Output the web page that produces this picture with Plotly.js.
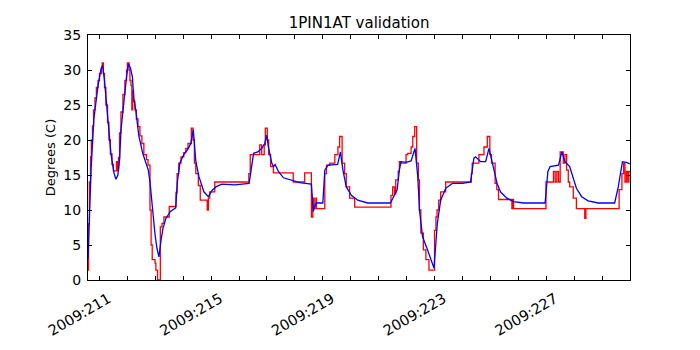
<!DOCTYPE html>
<html>
<head>
<meta charset="utf-8">
<script src="https://cdn.plot.ly/plotly-3.0.1.min.js"></script>
<style>
  body { margin: 0; background: #fff; }
  #graphDiv { width: 700px; height: 350px; }
</style>
</head>
<body>
<div id="graphDiv"></div>
<script>
// telemetry (red, stepped) - day of year 2009
const telemDay = [
  210.59, 210.61, 210.64, 210.68, 210.71, 210.75, 210.79, 210.84, 210.89, 210.95,
  211.00, 211.07, 211.10, 211.14, 211.18, 211.23, 211.29, 211.34, 211.39, 211.45,
  211.50, 211.61, 211.64, 211.68, 211.72, 211.77, 211.84, 211.91, 211.97, 212.00,
  212.06, 212.09, 212.13, 212.16, 212.19, 212.22, 212.27, 212.32, 212.38, 212.45,
  212.52, 212.59, 212.68, 212.74, 212.81, 212.85, 212.89, 212.99, 213.02, 213.08,
  213.18, 213.24, 213.31, 213.50, 213.74, 213.78, 213.84, 213.92, 214.02, 214.09,
  214.17, 214.29, 214.35, 214.40, 214.45, 214.54, 214.61, 214.86, 214.90, 214.95,
  215.13, 216.35, 216.40, 216.74, 216.81, 216.90, 216.94, 217.01, 217.06, 217.13,
  217.23, 217.94, 218.35, 218.59, 218.64, 218.69, 218.75, 218.77, 219.07, 219.13,
  219.25, 219.43, 219.54, 219.60, 219.69, 219.78, 219.84, 219.96, 220.14, 221.44,
  221.50, 221.57, 221.61, 221.70, 221.74, 221.80, 221.98, 222.04, 222.16, 222.22,
  222.29, 222.36, 222.42, 222.46, 222.51, 222.60, 222.69, 222.80, 223.00, 223.05,
  223.09, 223.15, 223.22, 223.40, 224.32, 224.35, 224.59, 224.77, 224.89, 224.98,
  225.04, 225.17, 225.23, 225.29, 225.77, 225.80, 225.83, 226.99, 227.26, 227.32,
  227.38, 227.44, 227.50, 227.61, 227.67, 227.73, 227.79, 227.84, 227.97, 228.08,
  228.38, 228.42, 229.61, 229.71, 229.77, 229.82, 229.87, 229.92, 229.96, 230.00
];
const telemTemp = [
  1.4, 8.0, 14.0, 17.6, 20.0, 22.0, 24.3, 26.0, 27.5, 28.5,
  29.5, 30.3, 31.0, 29.5, 27.5, 25.0, 22.5, 20.0, 18.0, 16.5,
  15.6, 16.9, 15.6, 17.5, 21.0, 24.0, 26.5, 28.5, 30.0, 31.0,
  30.0, 28.5, 27.8, 24.3, 27.0, 25.5, 24.3, 23.0, 21.9, 20.6,
  19.5, 17.9, 17.2, 16.4, 10.0, 5.0, 2.9, 2.4, 1.4, 0.0,
  7.6, 8.1, 9.0, 10.5, 12.5, 15.2, 16.7, 17.6, 18.2, 18.8,
  19.5, 21.7, 20.0, 16.7, 15.2, 13.5, 11.4, 10.0, 11.7, 12.6,
  14.0, 15.2, 17.9, 19.3, 17.9, 19.3, 21.7, 20.0, 17.9, 16.2,
  15.3, 14.0, 15.3, 9.0, 11.7, 10.2, 11.7, 10.2, 15.2, 16.4,
  16.7, 17.9, 19.0, 20.5, 16.7, 15.2, 13.3, 11.7, 10.4, 12.1,
  13.3, 12.3, 14.3, 15.5, 16.9, 16.7, 17.9, 18.1, 19.0, 20.5,
  21.9, 16.7, 14.3, 10.0, 6.7, 4.3, 2.9, 1.4, 7.1, 9.0,
  10.0, 11.4, 12.6, 14.0, 15.2, 16.7, 17.9, 19.0, 20.5, 17.9,
  16.7, 13.8, 12.9, 11.5, 10.2, 11.5, 10.2, 14.0, 15.5, 14.0,
  15.5, 14.0, 18.3, 16.7, 17.9, 15.7, 14.0, 13.3, 11.7, 10.2,
  8.8, 10.2, 12.9, 15.2, 16.7, 14.0, 15.5, 14.0, 15.5, 15.5
];

// model prediction (blue)
const modelDay = [
  210.59, 210.66, 210.70, 210.80, 210.95, 211.05, 211.11, 211.18, 211.30, 211.41,
  211.52, 211.59, 211.66, 211.72, 211.77, 211.89, 211.97, 212.04, 212.11, 212.18,
  212.23, 212.31, 212.41, 212.55, 212.64, 212.75, 212.81, 212.88, 212.99, 213.06,
  213.13, 213.20, 213.27, 213.38, 213.54, 213.73, 213.79, 213.88, 214.02, 214.17,
  214.27, 214.36, 214.40, 214.45, 214.56, 214.74, 214.90, 215.03, 215.17, 215.38,
  215.85, 216.36, 216.52, 216.67, 216.81, 216.92, 216.99, 217.05, 217.17, 217.23,
  217.29, 217.41, 217.59, 217.89, 218.17, 218.59, 218.66, 218.71, 218.77, 219.00,
  219.07, 219.19, 219.53, 219.63, 219.72, 219.84, 220.02, 220.25, 220.61, 221.42,
  221.50, 221.66, 221.74, 221.80, 221.98, 222.16, 222.30, 222.40, 222.46, 222.57,
  222.75, 222.98, 223.10, 223.22, 223.40, 223.64, 224.00, 224.29, 224.41, 224.47,
  224.65, 224.83, 224.95, 225.07, 225.19, 225.24, 225.36, 225.59, 225.83, 226.19,
  226.96, 227.06, 227.14, 227.44, 227.56, 227.67, 227.84, 227.96, 228.08, 228.27,
  228.50, 228.86, 229.45, 229.58, 229.73, 229.87, 229.99
];
const modelTemp = [
  3.0, 12.0, 15.7, 23.0, 27.8, 30.0, 30.7, 28.5, 23.0, 18.1,
  15.3, 14.4, 15.0, 17.0, 21.4, 26.5, 29.0, 30.9, 30.3, 29.0,
  26.0, 24.0, 20.6, 18.1, 16.9, 15.7, 14.0, 11.0, 6.5, 4.5,
  3.3, 5.5, 7.3, 8.8, 9.8, 10.3, 14.0, 16.7, 17.9, 18.7,
  19.5, 21.5, 19.0, 17.0, 14.8, 12.6, 11.9, 12.8, 13.3, 13.7,
  13.6, 13.8, 18.1, 18.3, 18.8, 19.5, 20.7, 19.0, 16.7, 16.2,
  16.5, 15.5, 14.6, 14.2, 13.9, 13.7, 9.8, 10.5, 11.0, 11.0,
  15.7, 16.4, 16.5, 18.3, 15.7, 13.3, 12.1, 11.4, 11.0, 11.0,
  11.7, 12.9, 15.7, 16.9, 16.8, 17.0, 18.8, 14.8, 10.0, 6.2,
  4.3, 1.7, 8.1, 11.4, 13.1, 13.8, 13.8, 14.0, 17.4, 17.6,
  16.9, 16.9, 18.8, 16.7, 15.0, 13.8, 12.6, 11.7, 11.2, 11.0,
  11.0, 15.5, 16.2, 16.4, 18.3, 16.9, 16.2, 14.5, 13.1, 11.9,
  11.3, 11.0, 11.0, 13.3, 16.9, 16.8, 16.6
];

const tickDays = [211, 215, 219, 223, 227];
const tickLabels = ["2009:211", "2009:215", "2009:219", "2009:223", "2009:227"];

const font = "DejaVu Sans, sans-serif";

const traces = [
  {
    x: telemDay, y: telemTemp, mode: "lines", name: "telem",
    line: { color: "#ff0000", width: 1.3, shape: "hv" }
  },
  {
    x: modelDay, y: modelTemp, mode: "lines", name: "model",
    line: { color: "#0000ff", width: 1.3 }
  }
];

const layout = {
  width: 700, height: 350,
  margin: { l: 88, r: 70, t: 35, b: 70 },
  paper_bgcolor: "#fff", plot_bgcolor: "#fff",
  showlegend: false,
  font: { family: font, size: 13, color: "#000" },
  title: { text: "1PIN1AT validation", font: { family: font, size: 15 }, x: 0.513, xanchor: "center", y: 0.935, yanchor: "middle" },
  xaxis: {
    range: [210.59, 230.0],
    tickmode: "array", tickvals: tickDays, ticktext: tickLabels, tickangle: -30,
    ticklabelshift: 9, ticklabelstandoff: 4,
    ticks: "inside", ticklen: 4, tickcolor: "#000",
    minor: { tickmode: "linear", tick0: 211, dtick: 1, ticks: "inside", ticklen: 4, tickcolor: "#000" },
    showgrid: false, zeroline: false,
    showline: true, linecolor: "#000", linewidth: 1, mirror: "ticks",
    tickfont: { family: font, size: 14.5 }
  },
  yaxis: {
    range: [0, 35], dtick: 5,
    ticks: "inside", ticklen: 4, tickcolor: "#000",
    ticklabelstandoff: 3,
    showgrid: false, zeroline: false,
    showline: true, linecolor: "#000", linewidth: 1, mirror: "ticks",
    title: { text: "Degrees (C)", font: { family: font, size: 13 }, standoff: 4 },
    tickfont: { family: font, size: 14 }
  }
};

Plotly.newPlot("graphDiv", traces, layout, { staticPlot: true });
</script>
</body>
</html>
